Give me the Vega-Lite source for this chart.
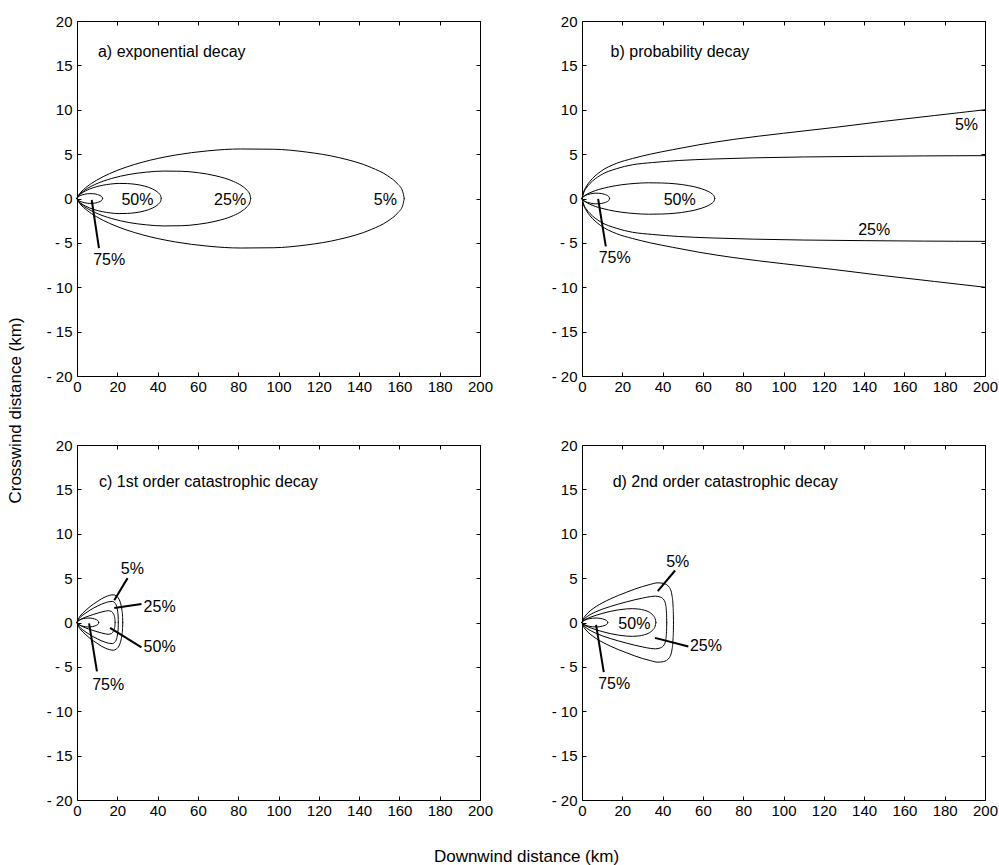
{
"$schema": "https://vega.github.io/schema/vega-lite/v6.json",
"background": "white",
"padding": {"left": 5, "top": 13, "right": 5, "bottom": 0},
"bounds": "flush",
"columns": 2,
"spacing": {"row": 69, "column": 102},
"config": {
  "view": {"stroke": "#000", "strokeWidth": 1},
  "font": "Liberation Sans",
  "axis": {"grid": false, "domain": false, "labelFlush": false, "labelOverlap": false, "labelFont": "Liberation Sans", "labelFontSize": 15, "labelColor": "#000", "tickColor": "#000", "titleFont": "Liberation Sans", "titleFontSize": 17, "titleFontWeight": "normal", "titleColor": "#000"},
  "text": {"font": "Liberation Sans", "color": "#000"}
},
"datasets": {
"a": [
{"k":"5u","x":0,"y":0},{"k":"5u","x":0.81,"y":0.39},{"k":"5u","x":1.62,"y":0.63},{"k":"5u","x":4.87,"y":1.32},{"k":"5u","x":9.74,"y":2.06},{"k":"5u","x":16.24,"y":2.81},{"k":"5u","x":24.36,"y":3.53},{"k":"5u","x":32.48,"y":4.09},{"k":"5u","x":48.72,"y":4.89},{"k":"5u","x":64.96,"y":5.37},{"k":"5u","x":81.2,"y":5.58},{"k":"5u","x":97.44,"y":5.55},{"k":"5u","x":113.68,"y":5.24},{"k":"5u","x":129.92,"y":4.61},{"k":"5u","x":146.16,"y":3.48},{"k":"5u","x":154.28,"y":2.54},{"k":"5u","x":159.15,"y":1.63},{"k":"5u","x":161.59,"y":0.82},{"k":"5u","x":162.4,"y":0},
{"k":"5l","x":0,"y":0},{"k":"5l","x":0.81,"y":-0.39},{"k":"5l","x":1.62,"y":-0.63},{"k":"5l","x":4.87,"y":-1.32},{"k":"5l","x":9.74,"y":-2.06},{"k":"5l","x":16.24,"y":-2.81},{"k":"5l","x":24.36,"y":-3.53},{"k":"5l","x":32.48,"y":-4.09},{"k":"5l","x":48.72,"y":-4.89},{"k":"5l","x":64.96,"y":-5.37},{"k":"5l","x":81.2,"y":-5.58},{"k":"5l","x":97.44,"y":-5.55},{"k":"5l","x":113.68,"y":-5.24},{"k":"5l","x":129.92,"y":-4.61},{"k":"5l","x":146.16,"y":-3.48},{"k":"5l","x":154.28,"y":-2.54},{"k":"5l","x":159.15,"y":-1.63},{"k":"5l","x":161.59,"y":-0.82},{"k":"5l","x":162.4,"y":0},
{"k":"25u","x":0,"y":0},{"k":"25u","x":0.43,"y":0.21},{"k":"25u","x":0.86,"y":0.35},{"k":"25u","x":2.59,"y":0.73},{"k":"25u","x":5.17,"y":1.14},{"k":"25u","x":8.62,"y":1.55},{"k":"25u","x":12.93,"y":1.95},{"k":"25u","x":17.24,"y":2.26},{"k":"25u","x":25.86,"y":2.71},{"k":"25u","x":34.48,"y":2.97},{"k":"25u","x":43.1,"y":3.09},{"k":"25u","x":51.72,"y":3.07},{"k":"25u","x":60.34,"y":2.9},{"k":"25u","x":68.96,"y":2.55},{"k":"25u","x":77.58,"y":1.93},{"k":"25u","x":81.89,"y":1.41},{"k":"25u","x":84.48,"y":0.9},{"k":"25u","x":85.77,"y":0.46},{"k":"25u","x":86.2,"y":0},
{"k":"25l","x":0,"y":0},{"k":"25l","x":0.43,"y":-0.21},{"k":"25l","x":0.86,"y":-0.35},{"k":"25l","x":2.59,"y":-0.73},{"k":"25l","x":5.17,"y":-1.14},{"k":"25l","x":8.62,"y":-1.55},{"k":"25l","x":12.93,"y":-1.95},{"k":"25l","x":17.24,"y":-2.26},{"k":"25l","x":25.86,"y":-2.71},{"k":"25l","x":34.48,"y":-2.97},{"k":"25l","x":43.1,"y":-3.09},{"k":"25l","x":51.72,"y":-3.07},{"k":"25l","x":60.34,"y":-2.9},{"k":"25l","x":68.96,"y":-2.55},{"k":"25l","x":77.58,"y":-1.93},{"k":"25l","x":81.89,"y":-1.41},{"k":"25l","x":84.48,"y":-0.9},{"k":"25l","x":85.77,"y":-0.46},{"k":"25l","x":86.2,"y":0},
{"k":"50u","x":0,"y":0},{"k":"50u","x":0.21,"y":0.12},{"k":"50u","x":0.42,"y":0.19},{"k":"50u","x":1.25,"y":0.4},{"k":"50u","x":2.51,"y":0.63},{"k":"50u","x":4.18,"y":0.85},{"k":"50u","x":6.27,"y":1.07},{"k":"50u","x":8.36,"y":1.24},{"k":"50u","x":12.54,"y":1.48},{"k":"50u","x":16.72,"y":1.63},{"k":"50u","x":20.9,"y":1.7},{"k":"50u","x":25.08,"y":1.68},{"k":"50u","x":29.26,"y":1.59},{"k":"50u","x":33.44,"y":1.4},{"k":"50u","x":37.62,"y":1.06},{"k":"50u","x":39.71,"y":0.77},{"k":"50u","x":40.96,"y":0.5},{"k":"50u","x":41.59,"y":0.25},{"k":"50u","x":41.8,"y":0},
{"k":"50l","x":0,"y":0},{"k":"50l","x":0.21,"y":-0.12},{"k":"50l","x":0.42,"y":-0.19},{"k":"50l","x":1.25,"y":-0.4},{"k":"50l","x":2.51,"y":-0.63},{"k":"50l","x":4.18,"y":-0.85},{"k":"50l","x":6.27,"y":-1.07},{"k":"50l","x":8.36,"y":-1.24},{"k":"50l","x":12.54,"y":-1.48},{"k":"50l","x":16.72,"y":-1.63},{"k":"50l","x":20.9,"y":-1.7},{"k":"50l","x":25.08,"y":-1.68},{"k":"50l","x":29.26,"y":-1.59},{"k":"50l","x":33.44,"y":-1.4},{"k":"50l","x":37.62,"y":-1.06},{"k":"50l","x":39.71,"y":-0.77},{"k":"50l","x":40.96,"y":-0.5},{"k":"50l","x":41.59,"y":-0.25},{"k":"50l","x":41.8,"y":0},
{"k":"75u","x":0,"y":0},{"k":"75u","x":0.38,"y":0.13},{"k":"75u","x":1.27,"y":0.28},{"k":"75u","x":2.54,"y":0.4},{"k":"75u","x":3.81,"y":0.48},{"k":"75u","x":5.08,"y":0.53},{"k":"75u","x":6.35,"y":0.55},{"k":"75u","x":7.62,"y":0.54},{"k":"75u","x":8.89,"y":0.52},{"k":"75u","x":10.16,"y":0.45},{"k":"75u","x":11.43,"y":0.34},{"k":"75u","x":12.07,"y":0.25},{"k":"75u","x":12.45,"y":0.16},{"k":"75u","x":12.7,"y":0},
{"k":"75l","x":0,"y":0},{"k":"75l","x":0.38,"y":-0.13},{"k":"75l","x":1.27,"y":-0.28},{"k":"75l","x":2.54,"y":-0.4},{"k":"75l","x":3.81,"y":-0.48},{"k":"75l","x":5.08,"y":-0.53},{"k":"75l","x":6.35,"y":-0.55},{"k":"75l","x":7.62,"y":-0.54},{"k":"75l","x":8.89,"y":-0.52},{"k":"75l","x":10.16,"y":-0.45},{"k":"75l","x":11.43,"y":-0.34},{"k":"75l","x":12.07,"y":-0.25},{"k":"75l","x":12.45,"y":-0.16},{"k":"75l","x":12.7,"y":0}
],
"b": [
{"k":"5u","x":0,"y":0},{"k":"5u","x":1,"y":0.85},{"k":"5u","x":2,"y":1.3},{"k":"5u","x":4,"y":1.95},{"k":"5u","x":9,"y":3.0},{"k":"5u","x":17,"y":3.95},{"k":"5u","x":25,"y":4.5},{"k":"5u","x":34,"y":5.0},{"k":"5u","x":45,"y":5.5},{"k":"5u","x":58,"y":6.05},{"k":"5u","x":75,"y":6.65},{"k":"5u","x":100,"y":7.35},{"k":"5u","x":125,"y":8.0},{"k":"5u","x":150,"y":8.7},{"k":"5u","x":175,"y":9.35},{"k":"5u","x":200,"y":10.0},
{"k":"5l","x":0,"y":0},{"k":"5l","x":1,"y":-0.85},{"k":"5l","x":2,"y":-1.3},{"k":"5l","x":4,"y":-1.95},{"k":"5l","x":9,"y":-3.0},{"k":"5l","x":17,"y":-3.95},{"k":"5l","x":25,"y":-4.5},{"k":"5l","x":34,"y":-5.0},{"k":"5l","x":45,"y":-5.5},{"k":"5l","x":58,"y":-6.05},{"k":"5l","x":75,"y":-6.65},{"k":"5l","x":100,"y":-7.35},{"k":"5l","x":125,"y":-8.0},{"k":"5l","x":150,"y":-8.7},{"k":"5l","x":175,"y":-9.35},{"k":"5l","x":200,"y":-10.0},
{"k":"25u","x":0,"y":0},{"k":"25u","x":1,"y":0.75},{"k":"25u","x":2,"y":1.15},{"k":"25u","x":4,"y":1.7},{"k":"25u","x":9,"y":2.6},{"k":"25u","x":17,"y":3.35},{"k":"25u","x":25,"y":3.8},{"k":"25u","x":35,"y":4.05},{"k":"25u","x":48,"y":4.28},{"k":"25u","x":65,"y":4.45},{"k":"25u","x":85,"y":4.58},{"k":"25u","x":110,"y":4.68},{"k":"25u","x":140,"y":4.75},{"k":"25u","x":170,"y":4.8},{"k":"25u","x":200,"y":4.83},
{"k":"25l","x":0,"y":0},{"k":"25l","x":1,"y":-0.75},{"k":"25l","x":2,"y":-1.15},{"k":"25l","x":4,"y":-1.7},{"k":"25l","x":9,"y":-2.6},{"k":"25l","x":17,"y":-3.35},{"k":"25l","x":25,"y":-3.8},{"k":"25l","x":35,"y":-4.05},{"k":"25l","x":48,"y":-4.28},{"k":"25l","x":65,"y":-4.45},{"k":"25l","x":85,"y":-4.58},{"k":"25l","x":110,"y":-4.68},{"k":"25l","x":140,"y":-4.75},{"k":"25l","x":170,"y":-4.8},{"k":"25l","x":200,"y":-4.83},
{"k":"50u","x":0,"y":0},{"k":"50u","x":0.33,"y":0.12},{"k":"50u","x":0.66,"y":0.2},{"k":"50u","x":1.98,"y":0.42},{"k":"50u","x":3.95,"y":0.65},{"k":"50u","x":6.59,"y":0.89},{"k":"50u","x":9.89,"y":1.11},{"k":"50u","x":13.18,"y":1.29},{"k":"50u","x":19.77,"y":1.55},{"k":"50u","x":26.36,"y":1.7},{"k":"50u","x":32.95,"y":1.77},{"k":"50u","x":39.54,"y":1.75},{"k":"50u","x":46.13,"y":1.66},{"k":"50u","x":52.72,"y":1.46},{"k":"50u","x":59.31,"y":1.1},{"k":"50u","x":62.61,"y":0.8},{"k":"50u","x":64.58,"y":0.52},{"k":"50u","x":65.57,"y":0.26},{"k":"50u","x":65.9,"y":0},
{"k":"50l","x":0,"y":0},{"k":"50l","x":0.33,"y":-0.12},{"k":"50l","x":0.66,"y":-0.2},{"k":"50l","x":1.98,"y":-0.42},{"k":"50l","x":3.95,"y":-0.65},{"k":"50l","x":6.59,"y":-0.89},{"k":"50l","x":9.89,"y":-1.11},{"k":"50l","x":13.18,"y":-1.29},{"k":"50l","x":19.77,"y":-1.55},{"k":"50l","x":26.36,"y":-1.7},{"k":"50l","x":32.95,"y":-1.77},{"k":"50l","x":39.54,"y":-1.75},{"k":"50l","x":46.13,"y":-1.66},{"k":"50l","x":52.72,"y":-1.46},{"k":"50l","x":59.31,"y":-1.1},{"k":"50l","x":62.61,"y":-0.8},{"k":"50l","x":64.58,"y":-0.52},{"k":"50l","x":65.57,"y":-0.26},{"k":"50l","x":65.9,"y":0},
{"k":"75u","x":0,"y":0},{"k":"75u","x":0.41,"y":0.14},{"k":"75u","x":1.37,"y":0.3},{"k":"75u","x":2.74,"y":0.44},{"k":"75u","x":4.11,"y":0.52},{"k":"75u","x":5.48,"y":0.58},{"k":"75u","x":6.85,"y":0.6},{"k":"75u","x":8.22,"y":0.59},{"k":"75u","x":9.59,"y":0.56},{"k":"75u","x":10.96,"y":0.49},{"k":"75u","x":12.33,"y":0.37},{"k":"75u","x":13.02,"y":0.27},{"k":"75u","x":13.43,"y":0.17},{"k":"75u","x":13.7,"y":0},
{"k":"75l","x":0,"y":0},{"k":"75l","x":0.41,"y":-0.14},{"k":"75l","x":1.37,"y":-0.3},{"k":"75l","x":2.74,"y":-0.44},{"k":"75l","x":4.11,"y":-0.52},{"k":"75l","x":5.48,"y":-0.58},{"k":"75l","x":6.85,"y":-0.6},{"k":"75l","x":8.22,"y":-0.59},{"k":"75l","x":9.59,"y":-0.56},{"k":"75l","x":10.96,"y":-0.49},{"k":"75l","x":12.33,"y":-0.37},{"k":"75l","x":13.02,"y":-0.27},{"k":"75l","x":13.43,"y":-0.17},{"k":"75l","x":13.7,"y":0}
],
"c": [
{"k":"5u","x":0,"y":0},{"k":"5u","x":0.5,"y":0.35},{"k":"5u","x":1,"y":0.55},{"k":"5u","x":2,"y":0.85},{"k":"5u","x":4,"y":1.3},{"k":"5u","x":6,"y":1.7},{"k":"5u","x":8,"y":2.05},{"k":"5u","x":10,"y":2.35},{"k":"5u","x":12,"y":2.65},{"k":"5u","x":14,"y":2.88},{"k":"5u","x":16,"y":3.05},{"k":"5u","x":18,"y":3.12},{"k":"5u","x":19.6,"y":2.98},{"k":"5u","x":20.8,"y":2.65},{"k":"5u","x":21.7,"y":2.1},{"k":"5u","x":22.3,"y":1.4},{"k":"5u","x":22.6,"y":0.7},{"k":"5u","x":22.7,"y":0},
{"k":"5l","x":0,"y":0},{"k":"5l","x":0.5,"y":-0.35},{"k":"5l","x":1,"y":-0.55},{"k":"5l","x":2,"y":-0.85},{"k":"5l","x":4,"y":-1.3},{"k":"5l","x":6,"y":-1.7},{"k":"5l","x":8,"y":-2.05},{"k":"5l","x":10,"y":-2.35},{"k":"5l","x":12,"y":-2.65},{"k":"5l","x":14,"y":-2.88},{"k":"5l","x":16,"y":-3.05},{"k":"5l","x":18,"y":-3.12},{"k":"5l","x":19.6,"y":-2.98},{"k":"5l","x":20.8,"y":-2.65},{"k":"5l","x":21.7,"y":-2.1},{"k":"5l","x":22.3,"y":-1.4},{"k":"5l","x":22.6,"y":-0.7},{"k":"5l","x":22.7,"y":0},
{"k":"25u","x":0,"y":0},{"k":"25u","x":0.5,"y":0.28},{"k":"25u","x":1,"y":0.43},{"k":"25u","x":2,"y":0.67},{"k":"25u","x":4,"y":1.02},{"k":"25u","x":6,"y":1.32},{"k":"25u","x":8,"y":1.6},{"k":"25u","x":10,"y":1.83},{"k":"25u","x":12,"y":2.05},{"k":"25u","x":14,"y":2.22},{"k":"25u","x":16,"y":2.35},{"k":"25u","x":17.5,"y":2.38},{"k":"25u","x":18.8,"y":2.2},{"k":"25u","x":19.7,"y":1.8},{"k":"25u","x":20.2,"y":1.2},{"k":"25u","x":20.45,"y":0.6},{"k":"25u","x":20.5,"y":0},
{"k":"25l","x":0,"y":0},{"k":"25l","x":0.5,"y":-0.28},{"k":"25l","x":1,"y":-0.43},{"k":"25l","x":2,"y":-0.67},{"k":"25l","x":4,"y":-1.02},{"k":"25l","x":6,"y":-1.32},{"k":"25l","x":8,"y":-1.6},{"k":"25l","x":10,"y":-1.83},{"k":"25l","x":12,"y":-2.05},{"k":"25l","x":14,"y":-2.22},{"k":"25l","x":16,"y":-2.35},{"k":"25l","x":17.5,"y":-2.38},{"k":"25l","x":18.8,"y":-2.2},{"k":"25l","x":19.7,"y":-1.8},{"k":"25l","x":20.2,"y":-1.2},{"k":"25l","x":20.45,"y":-0.6},{"k":"25l","x":20.5,"y":0},
{"k":"50u","x":0,"y":0},{"k":"50u","x":0.5,"y":0.16},{"k":"50u","x":1,"y":0.25},{"k":"50u","x":2,"y":0.38},{"k":"50u","x":4,"y":0.58},{"k":"50u","x":6,"y":0.75},{"k":"50u","x":8,"y":0.9},{"k":"50u","x":10,"y":1.04},{"k":"50u","x":12,"y":1.17},{"k":"50u","x":14,"y":1.28},{"k":"50u","x":15.5,"y":1.33},{"k":"50u","x":17,"y":1.25},{"k":"50u","x":18,"y":1.0},{"k":"50u","x":18.6,"y":0.65},{"k":"50u","x":18.85,"y":0.3},{"k":"50u","x":18.9,"y":0},
{"k":"50l","x":0,"y":0},{"k":"50l","x":0.5,"y":-0.16},{"k":"50l","x":1,"y":-0.25},{"k":"50l","x":2,"y":-0.38},{"k":"50l","x":4,"y":-0.58},{"k":"50l","x":6,"y":-0.75},{"k":"50l","x":8,"y":-0.9},{"k":"50l","x":10,"y":-1.04},{"k":"50l","x":12,"y":-1.17},{"k":"50l","x":14,"y":-1.28},{"k":"50l","x":15.5,"y":-1.33},{"k":"50l","x":17,"y":-1.25},{"k":"50l","x":18,"y":-1.0},{"k":"50l","x":18.6,"y":-0.65},{"k":"50l","x":18.85,"y":-0.3},{"k":"50l","x":18.9,"y":0},
{"k":"75u","x":0,"y":0},{"k":"75u","x":0.32,"y":0.12},{"k":"75u","x":1.08,"y":0.25},{"k":"75u","x":2.16,"y":0.37},{"k":"75u","x":3.24,"y":0.44},{"k":"75u","x":4.32,"y":0.48},{"k":"75u","x":5.4,"y":0.5},{"k":"75u","x":6.48,"y":0.5},{"k":"75u","x":7.56,"y":0.47},{"k":"75u","x":8.64,"y":0.41},{"k":"75u","x":9.72,"y":0.31},{"k":"75u","x":10.26,"y":0.23},{"k":"75u","x":10.58,"y":0.15},{"k":"75u","x":10.8,"y":0},
{"k":"75l","x":0,"y":0},{"k":"75l","x":0.32,"y":-0.12},{"k":"75l","x":1.08,"y":-0.25},{"k":"75l","x":2.16,"y":-0.37},{"k":"75l","x":3.24,"y":-0.44},{"k":"75l","x":4.32,"y":-0.48},{"k":"75l","x":5.4,"y":-0.5},{"k":"75l","x":6.48,"y":-0.5},{"k":"75l","x":7.56,"y":-0.47},{"k":"75l","x":8.64,"y":-0.41},{"k":"75l","x":9.72,"y":-0.31},{"k":"75l","x":10.26,"y":-0.23},{"k":"75l","x":10.58,"y":-0.15},{"k":"75l","x":10.8,"y":0}
],
"d": [
{"k":"5u","x":0,"y":0},{"k":"5u","x":1,"y":0.55},{"k":"5u","x":2,"y":0.85},{"k":"5u","x":4,"y":1.3},{"k":"5u","x":7,"y":1.8},{"k":"5u","x":10,"y":2.2},{"k":"5u","x":14,"y":2.65},{"k":"5u","x":18,"y":3.05},{"k":"5u","x":22,"y":3.4},{"k":"5u","x":26,"y":3.75},{"k":"5u","x":30,"y":4.05},{"k":"5u","x":34,"y":4.3},{"k":"5u","x":37.6,"y":4.47},{"k":"5u","x":40.5,"y":4.4},{"k":"5u","x":43.3,"y":3.98},{"k":"5u","x":44.7,"y":3.0},{"k":"5u","x":45.2,"y":1.8},{"k":"5u","x":45.35,"y":0.9},{"k":"5u","x":45.4,"y":0},
{"k":"5l","x":0,"y":0},{"k":"5l","x":1,"y":-0.55},{"k":"5l","x":2,"y":-0.85},{"k":"5l","x":4,"y":-1.3},{"k":"5l","x":7,"y":-1.8},{"k":"5l","x":10,"y":-2.2},{"k":"5l","x":14,"y":-2.65},{"k":"5l","x":18,"y":-3.05},{"k":"5l","x":22,"y":-3.4},{"k":"5l","x":26,"y":-3.75},{"k":"5l","x":30,"y":-4.05},{"k":"5l","x":34,"y":-4.3},{"k":"5l","x":37.6,"y":-4.47},{"k":"5l","x":40.5,"y":-4.4},{"k":"5l","x":43.3,"y":-3.98},{"k":"5l","x":44.7,"y":-3.0},{"k":"5l","x":45.2,"y":-1.8},{"k":"5l","x":45.35,"y":-0.9},{"k":"5l","x":45.4,"y":0},
{"k":"25u","x":0,"y":0},{"k":"25u","x":1,"y":0.38},{"k":"25u","x":2,"y":0.58},{"k":"25u","x":4,"y":0.88},{"k":"25u","x":7,"y":1.22},{"k":"25u","x":10,"y":1.5},{"k":"25u","x":14,"y":1.8},{"k":"25u","x":18,"y":2.07},{"k":"25u","x":22,"y":2.32},{"k":"25u","x":26,"y":2.55},{"k":"25u","x":30,"y":2.75},{"k":"25u","x":34,"y":2.92},{"k":"25u","x":36.5,"y":2.97},{"k":"25u","x":39,"y":2.85},{"k":"25u","x":40.8,"y":2.5},{"k":"25u","x":41.6,"y":1.9},{"k":"25u","x":41.95,"y":1.0},{"k":"25u","x":42.05,"y":0},
{"k":"25l","x":0,"y":0},{"k":"25l","x":1,"y":-0.38},{"k":"25l","x":2,"y":-0.58},{"k":"25l","x":4,"y":-0.88},{"k":"25l","x":7,"y":-1.22},{"k":"25l","x":10,"y":-1.5},{"k":"25l","x":14,"y":-1.8},{"k":"25l","x":18,"y":-2.07},{"k":"25l","x":22,"y":-2.32},{"k":"25l","x":26,"y":-2.55},{"k":"25l","x":30,"y":-2.75},{"k":"25l","x":34,"y":-2.92},{"k":"25l","x":36.5,"y":-2.97},{"k":"25l","x":39,"y":-2.85},{"k":"25l","x":40.8,"y":-2.5},{"k":"25l","x":41.6,"y":-1.9},{"k":"25l","x":41.95,"y":-1.0},{"k":"25l","x":42.05,"y":0},
{"k":"50u","x":0,"y":0},{"k":"50u","x":1,"y":0.25},{"k":"50u","x":2,"y":0.38},{"k":"50u","x":4,"y":0.58},{"k":"50u","x":7,"y":0.82},{"k":"50u","x":10,"y":1.02},{"k":"50u","x":14,"y":1.25},{"k":"50u","x":18,"y":1.42},{"k":"50u","x":22,"y":1.53},{"k":"50u","x":25,"y":1.56},{"k":"50u","x":28,"y":1.52},{"k":"50u","x":31,"y":1.38},{"k":"50u","x":33.5,"y":1.15},{"k":"50u","x":35.3,"y":0.8},{"k":"50u","x":36.3,"y":0.42},{"k":"50u","x":36.7,"y":0},
{"k":"50l","x":0,"y":0},{"k":"50l","x":1,"y":-0.25},{"k":"50l","x":2,"y":-0.38},{"k":"50l","x":4,"y":-0.58},{"k":"50l","x":7,"y":-0.82},{"k":"50l","x":10,"y":-1.02},{"k":"50l","x":14,"y":-1.25},{"k":"50l","x":18,"y":-1.42},{"k":"50l","x":22,"y":-1.53},{"k":"50l","x":25,"y":-1.56},{"k":"50l","x":28,"y":-1.52},{"k":"50l","x":31,"y":-1.38},{"k":"50l","x":33.5,"y":-1.15},{"k":"50l","x":35.3,"y":-0.8},{"k":"50l","x":36.3,"y":-0.42},{"k":"50l","x":36.7,"y":0},
{"k":"75u","x":0,"y":0},{"k":"75u","x":0.38,"y":0.12},{"k":"75u","x":1.28,"y":0.25},{"k":"75u","x":2.56,"y":0.37},{"k":"75u","x":3.84,"y":0.44},{"k":"75u","x":5.12,"y":0.48},{"k":"75u","x":6.4,"y":0.5},{"k":"75u","x":7.68,"y":0.5},{"k":"75u","x":8.96,"y":0.47},{"k":"75u","x":10.24,"y":0.41},{"k":"75u","x":11.52,"y":0.31},{"k":"75u","x":12.16,"y":0.23},{"k":"75u","x":12.54,"y":0.15},{"k":"75u","x":12.8,"y":0},
{"k":"75l","x":0,"y":0},{"k":"75l","x":0.38,"y":-0.12},{"k":"75l","x":1.28,"y":-0.25},{"k":"75l","x":2.56,"y":-0.37},{"k":"75l","x":3.84,"y":-0.44},{"k":"75l","x":5.12,"y":-0.48},{"k":"75l","x":6.4,"y":-0.5},{"k":"75l","x":7.68,"y":-0.5},{"k":"75l","x":8.96,"y":-0.47},{"k":"75l","x":10.24,"y":-0.41},{"k":"75l","x":11.52,"y":-0.31},{"k":"75l","x":12.16,"y":-0.23},{"k":"75l","x":12.54,"y":-0.15},{"k":"75l","x":12.8,"y":0}
],
"labels": [
{"p":"a","t":"50%","x":30,"y":-0.2},{"p":"a","t":"25%","x":76,"y":-0.2},{"p":"a","t":"5%","x":153,"y":-0.2},{"p":"a","t":"75%","x":16,"y":-6.9},
{"p":"b","t":"50%","x":48.5,"y":-0.2},{"p":"b","t":"5%","x":190.8,"y":8.3},{"p":"b","t":"25%","x":145,"y":-3.55},{"p":"b","t":"75%","x":16.2,"y":-6.7},
{"p":"c","t":"5%","x":27.5,"y":6.0},{"p":"c","t":"25%","x":41,"y":1.8},{"p":"c","t":"50%","x":41,"y":-2.8},{"p":"c","t":"75%","x":15.5,"y":-7.0},
{"p":"d","t":"5%","x":47.5,"y":6.8},{"p":"d","t":"25%","x":61.5,"y":-2.6},{"p":"d","t":"50%","x":26,"y":-0.15},{"p":"d","t":"75%","x":16,"y":-6.9}
],
"leaders": [
{"p":"a","x":7.3,"y":-0.17,"x2":10.9,"y2":-5.6},
{"p":"b","x":8,"y":-0.05,"x2":11.8,"y2":-5.4},
{"p":"c","x":25.1,"y":5.0,"x2":18.5,"y2":2.5},{"p":"c","x":32,"y":2.08,"x2":18.5,"y2":1.63},{"p":"c","x":32,"y":-2.8,"x2":16.4,"y2":-0.6},{"p":"c","x":6,"y":-0.1,"x2":9.9,"y2":-5.5},
{"p":"d","x":46.2,"y":5.86,"x2":37.6,"y2":3.53},{"p":"d","x":52.8,"y":-2.7,"x2":36.2,"y2":-1.73},{"p":"d","x":7,"y":-0.26,"x2":10.8,"y2":-5.6}
],
"titles": [
{"p":"a","t":"a) exponential decay","x":10.4,"y":16.5},
{"p":"b","t":"b) probability decay","x":14.2,"y":16.5},
{"p":"c","t":"c) 1st order catastrophic decay","x":10.9,"y":15.8},
{"p":"d","t":"d) 2nd order catastrophic decay","x":15.2,"y":15.8}
]
},
"concat": [
{"width": 403, "height": 355, "resolve": {"axis": {"x": "independent", "y": "independent"}},
 "layer": [
  {"data": {"name": "a"}, "mark": {"type": "line", "stroke": "#000", "strokeWidth": 1, "interpolate": "monotone", "strokeCap": "round"},
   "encoding": {
    "x": {"field": "x", "type": "quantitative", "scale": {"domain": [0, 200], "nice": false, "zero": false}, "axis": {"orient": "bottom", "values": [0,20,40,60,80,100,120,140,160,180,200], "tickSize": -4, "labelPadding": 7, "title": null}},
    "y": {"field": "y", "type": "quantitative", "scale": {"domain": [-20, 20], "nice": false, "zero": false}, "axis": {"orient": "left", "values": [-20,-15,-10,-5,0,5,10,15,20], "tickSize": -4, "labelPadding": 9, "labelExpr": "datum.value < 0 ? '- ' + abs(datum.value) : datum.label", "title": null}},
    "detail": {"field": "k"}}},
  {"data": {"name": "labels"}, "transform": [{"filter": "datum.p == 'a'"}], "mark": {"type": "text", "fontSize": 16, "align": "center", "baseline": "middle"},
   "encoding": {
    "x": {"field": "x", "type": "quantitative", "axis": {"orient": "top", "values": [0,20,40,60,80,100,120,140,160,180,200], "tickSize": -4, "labels": false, "title": null}},
    "y": {"field": "y", "type": "quantitative", "axis": {"orient": "right", "values": [-20,-15,-10,-5,0,5,10,15,20], "tickSize": -4, "labels": false, "title": null}},
    "text": {"field": "t"}}},
  {"data": {"name": "leaders"}, "transform": [{"filter": "datum.p == 'a'"}], "mark": {"type": "rule", "stroke": "#000", "strokeWidth": 2},
   "encoding": {
    "x": {"field": "x", "type": "quantitative", "axis": null}, "y": {"field": "y", "type": "quantitative", "axis": null},
    "x2": {"field": "x2"}, "y2": {"field": "y2"}}},
  {"data": {"name": "titles"}, "transform": [{"filter": "datum.p == 'a'"}], "mark": {"type": "text", "fontSize": 16, "align": "left", "baseline": "middle"},
   "encoding": {
    "x": {"field": "x", "type": "quantitative", "axis": null}, "y": {"field": "y", "type": "quantitative", "axis": null},
    "text": {"field": "t"}}}
 ]},
{"width": 403, "height": 355, "resolve": {"axis": {"x": "independent", "y": "independent"}},
 "layer": [
  {"data": {"name": "b"}, "mark": {"type": "line", "stroke": "#000", "strokeWidth": 1, "interpolate": "monotone", "strokeCap": "round"},
   "encoding": {
    "x": {"field": "x", "type": "quantitative", "scale": {"domain": [0, 200], "nice": false, "zero": false}, "axis": {"orient": "bottom", "values": [0,20,40,60,80,100,120,140,160,180,200], "tickSize": -4, "labelPadding": 7, "title": null}},
    "y": {"field": "y", "type": "quantitative", "scale": {"domain": [-20, 20], "nice": false, "zero": false}, "axis": {"orient": "left", "values": [-20,-15,-10,-5,0,5,10,15,20], "tickSize": -4, "labelPadding": 9, "labelExpr": "datum.value < 0 ? '- ' + abs(datum.value) : datum.label", "title": null}},
    "detail": {"field": "k"}}},
  {"data": {"name": "labels"}, "transform": [{"filter": "datum.p == 'b'"}], "mark": {"type": "text", "fontSize": 16, "align": "center", "baseline": "middle"},
   "encoding": {
    "x": {"field": "x", "type": "quantitative", "axis": {"orient": "top", "values": [0,20,40,60,80,100,120,140,160,180,200], "tickSize": -4, "labels": false, "title": null}},
    "y": {"field": "y", "type": "quantitative", "axis": {"orient": "right", "values": [-20,-15,-10,-5,0,5,10,15,20], "tickSize": -4, "labels": false, "title": null}},
    "text": {"field": "t"}}},
  {"data": {"name": "leaders"}, "transform": [{"filter": "datum.p == 'b'"}], "mark": {"type": "rule", "stroke": "#000", "strokeWidth": 2},
   "encoding": {
    "x": {"field": "x", "type": "quantitative", "axis": null}, "y": {"field": "y", "type": "quantitative", "axis": null},
    "x2": {"field": "x2"}, "y2": {"field": "y2"}}},
  {"data": {"name": "titles"}, "transform": [{"filter": "datum.p == 'b'"}], "mark": {"type": "text", "fontSize": 16, "align": "left", "baseline": "middle"},
   "encoding": {
    "x": {"field": "x", "type": "quantitative", "axis": null}, "y": {"field": "y", "type": "quantitative", "axis": null},
    "text": {"field": "t"}}}
 ]},
{"width": 403, "height": 355, "resolve": {"axis": {"x": "independent", "y": "independent"}},
 "layer": [
  {"data": {"name": "c"}, "mark": {"type": "line", "stroke": "#000", "strokeWidth": 1, "interpolate": "monotone", "strokeCap": "round"},
   "encoding": {
    "x": {"field": "x", "type": "quantitative", "scale": {"domain": [0, 200], "nice": false, "zero": false}, "axis": {"orient": "bottom", "values": [0,20,40,60,80,100,120,140,160,180,200], "tickSize": -4, "labelPadding": 7, "title": "Downwind distance (km)", "titleX": 449, "titleY": 61, "titleAlign": "center", "titleBaseline": "alphabetic"}},
    "y": {"field": "y", "type": "quantitative", "scale": {"domain": [-20, 20], "nice": false, "zero": false}, "axis": {"orient": "left", "values": [-20,-15,-10,-5,0,5,10,15,20], "tickSize": -4, "labelPadding": 9, "labelExpr": "datum.value < 0 ? '- ' + abs(datum.value) : datum.label", "title": "Crosswind distance (km)", "titleX": -62, "titleY": -35, "titleAngle": 270, "titleAlign": "center", "titleBaseline": "middle"}},
    "detail": {"field": "k"}}},
  {"data": {"name": "labels"}, "transform": [{"filter": "datum.p == 'c'"}], "mark": {"type": "text", "fontSize": 16, "align": "center", "baseline": "middle"},
   "encoding": {
    "x": {"field": "x", "type": "quantitative", "axis": {"orient": "top", "values": [0,20,40,60,80,100,120,140,160,180,200], "tickSize": -4, "labels": false, "title": null}},
    "y": {"field": "y", "type": "quantitative", "axis": {"orient": "right", "values": [-20,-15,-10,-5,0,5,10,15,20], "tickSize": -4, "labels": false, "title": null}},
    "text": {"field": "t"}}},
  {"data": {"name": "leaders"}, "transform": [{"filter": "datum.p == 'c'"}], "mark": {"type": "rule", "stroke": "#000", "strokeWidth": 2},
   "encoding": {
    "x": {"field": "x", "type": "quantitative", "axis": null}, "y": {"field": "y", "type": "quantitative", "axis": null},
    "x2": {"field": "x2"}, "y2": {"field": "y2"}}},
  {"data": {"name": "titles"}, "transform": [{"filter": "datum.p == 'c'"}], "mark": {"type": "text", "fontSize": 16, "align": "left", "baseline": "middle"},
   "encoding": {
    "x": {"field": "x", "type": "quantitative", "axis": null}, "y": {"field": "y", "type": "quantitative", "axis": null},
    "text": {"field": "t"}}}
 ]},
{"width": 403, "height": 355, "resolve": {"axis": {"x": "independent", "y": "independent"}},
 "layer": [
  {"data": {"name": "d"}, "mark": {"type": "line", "stroke": "#000", "strokeWidth": 1, "interpolate": "monotone", "strokeCap": "round"},
   "encoding": {
    "x": {"field": "x", "type": "quantitative", "scale": {"domain": [0, 200], "nice": false, "zero": false}, "axis": {"orient": "bottom", "values": [0,20,40,60,80,100,120,140,160,180,200], "tickSize": -4, "labelPadding": 7, "title": null}},
    "y": {"field": "y", "type": "quantitative", "scale": {"domain": [-20, 20], "nice": false, "zero": false}, "axis": {"orient": "left", "values": [-20,-15,-10,-5,0,5,10,15,20], "tickSize": -4, "labelPadding": 9, "labelExpr": "datum.value < 0 ? '- ' + abs(datum.value) : datum.label", "title": null}},
    "detail": {"field": "k"}}},
  {"data": {"name": "labels"}, "transform": [{"filter": "datum.p == 'd'"}], "mark": {"type": "text", "fontSize": 16, "align": "center", "baseline": "middle"},
   "encoding": {
    "x": {"field": "x", "type": "quantitative", "axis": {"orient": "top", "values": [0,20,40,60,80,100,120,140,160,180,200], "tickSize": -4, "labels": false, "title": null}},
    "y": {"field": "y", "type": "quantitative", "axis": {"orient": "right", "values": [-20,-15,-10,-5,0,5,10,15,20], "tickSize": -4, "labels": false, "title": null}},
    "text": {"field": "t"}}},
  {"data": {"name": "leaders"}, "transform": [{"filter": "datum.p == 'd'"}], "mark": {"type": "rule", "stroke": "#000", "strokeWidth": 2},
   "encoding": {
    "x": {"field": "x", "type": "quantitative", "axis": null}, "y": {"field": "y", "type": "quantitative", "axis": null},
    "x2": {"field": "x2"}, "y2": {"field": "y2"}}},
  {"data": {"name": "titles"}, "transform": [{"filter": "datum.p == 'd'"}], "mark": {"type": "text", "fontSize": 16, "align": "left", "baseline": "middle"},
   "encoding": {
    "x": {"field": "x", "type": "quantitative", "axis": null}, "y": {"field": "y", "type": "quantitative", "axis": null},
    "text": {"field": "t"}}}
 ]}
]
}
